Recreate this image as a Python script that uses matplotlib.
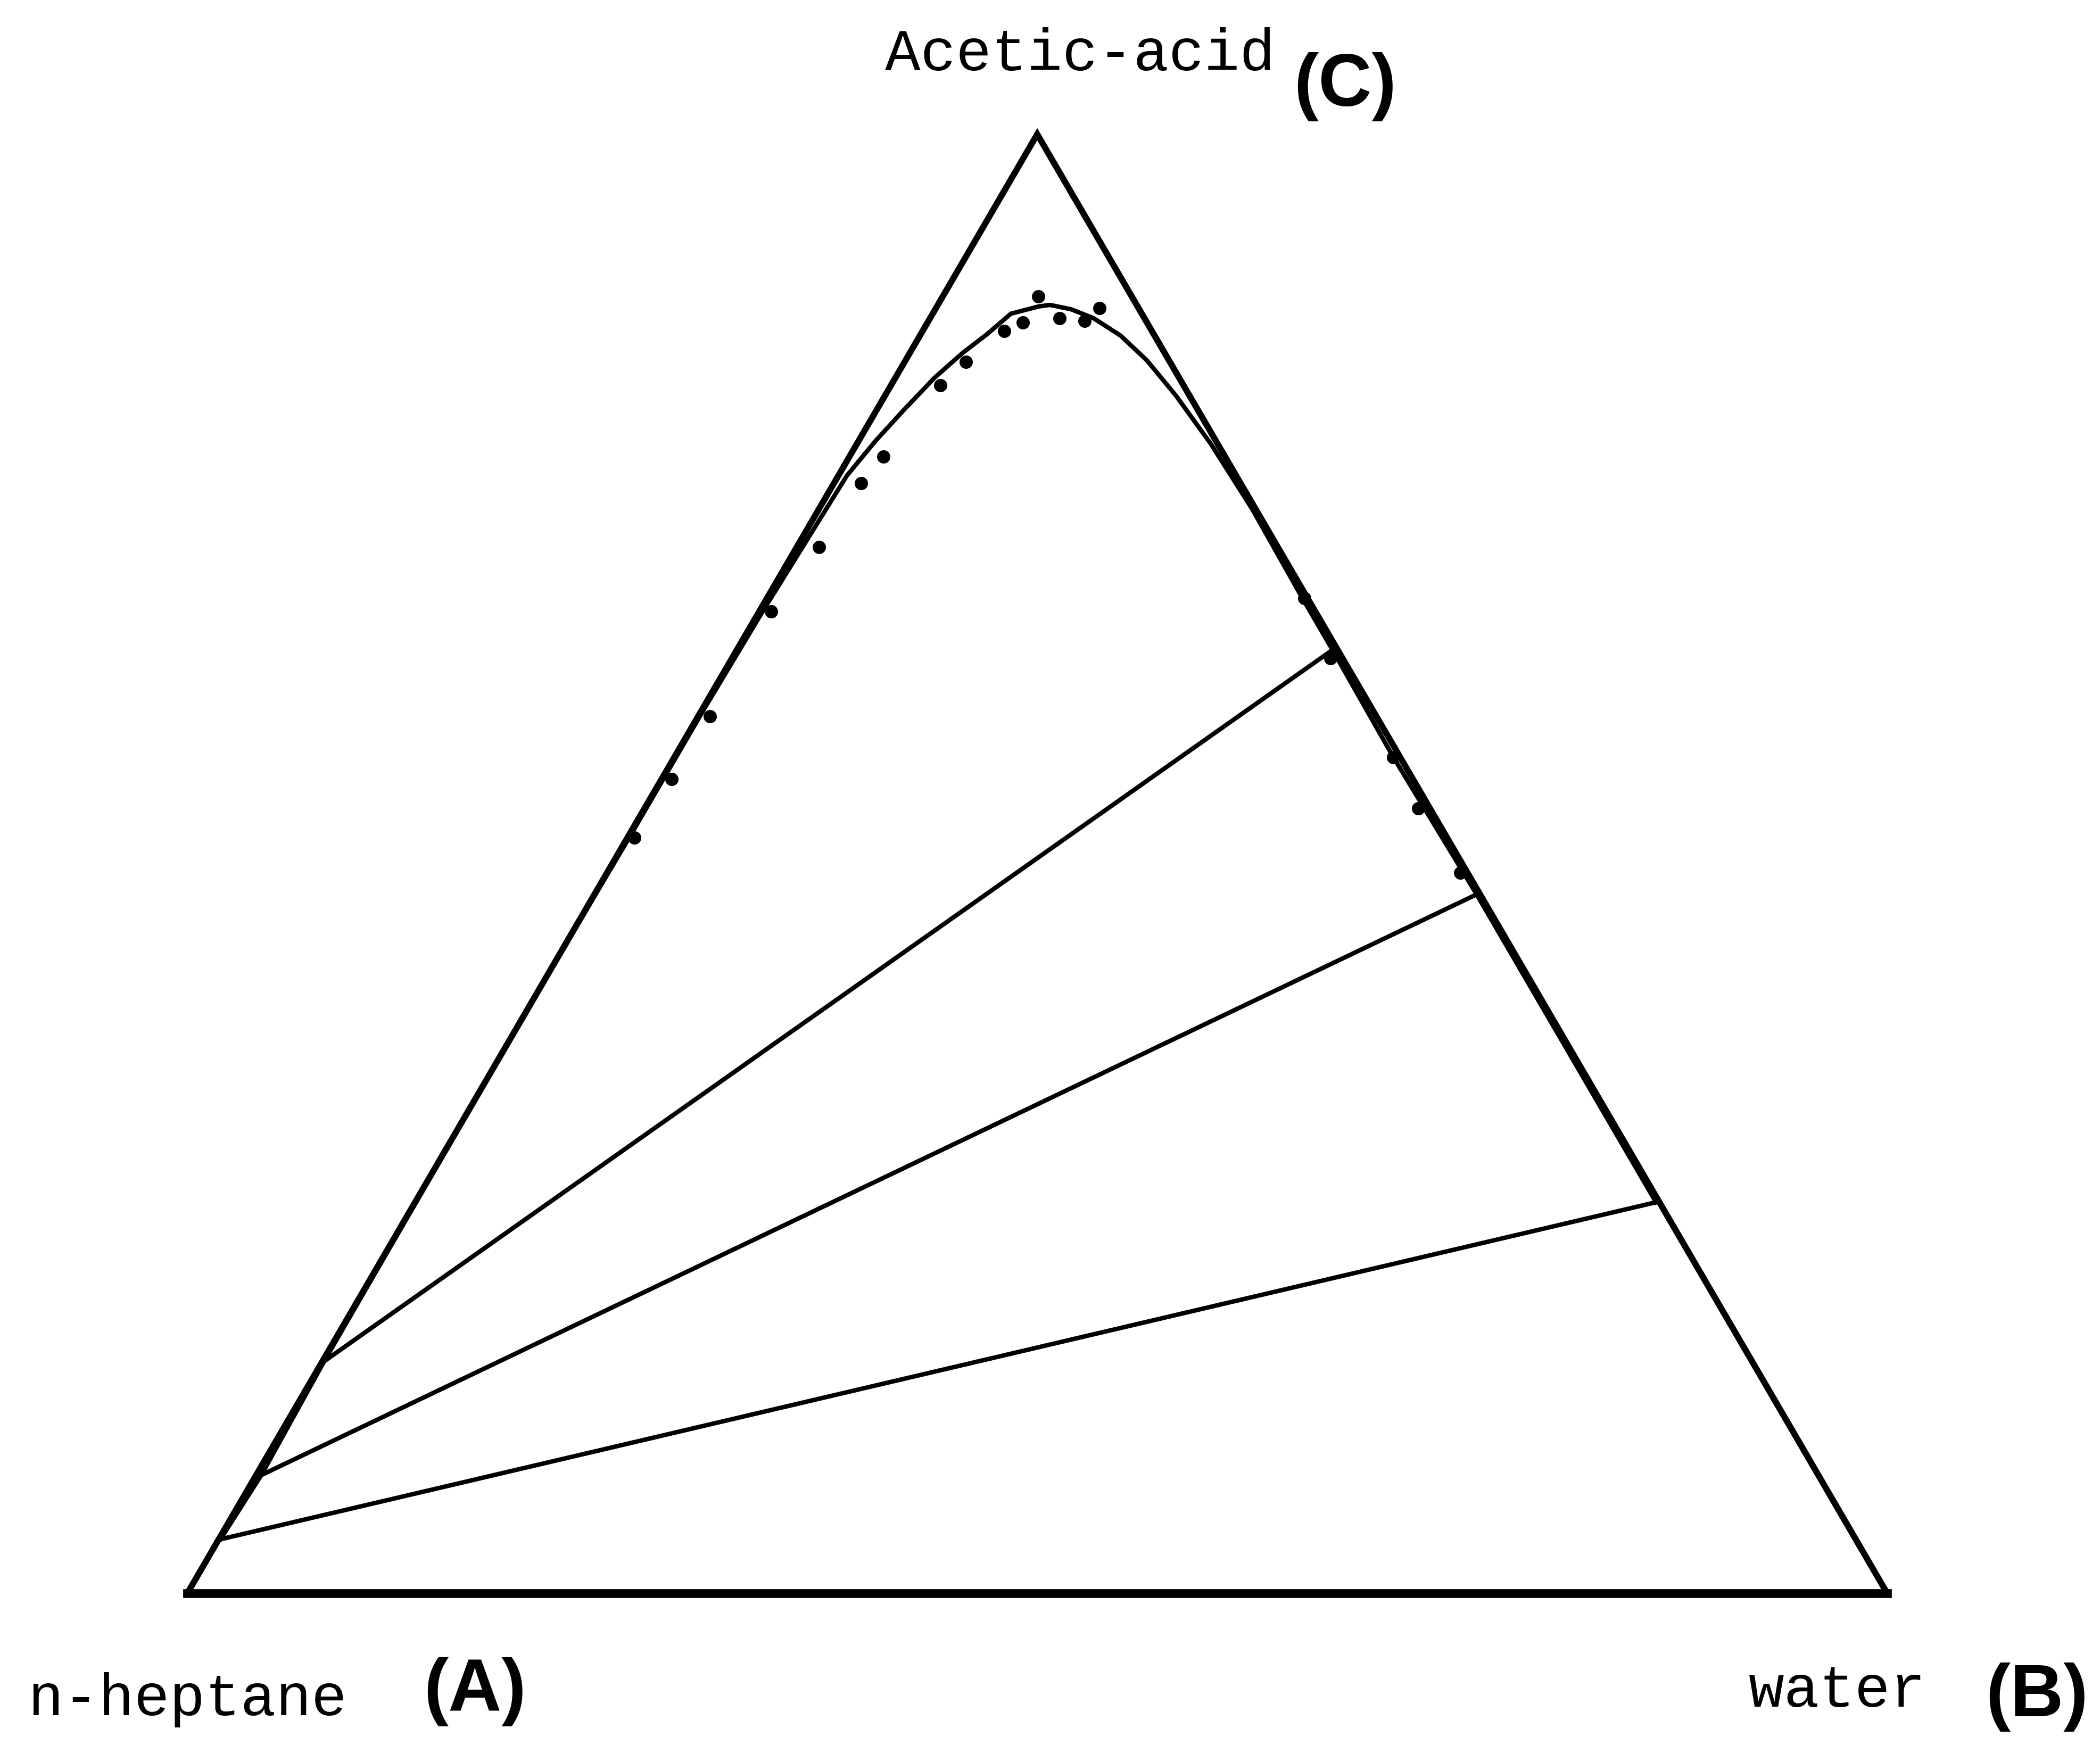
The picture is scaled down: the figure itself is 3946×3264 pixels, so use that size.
# ------------------------------------------------------------------------------------
# DIAGRAMA TRIANGULAR: n-HEPTANO (A) / AGUA (B) / ÁCIDO ACÉTICO (C)
# ------------------------------------------------------------------------------------
# Curva binodal, puntos experimentales y rectas de reparto en un triángulo equilátero.
# Las composiciones se guardan como fracciones másicas (xB, xC); xA = 1 - xB - xC.
import numpy as np
import matplotlib.pyplot as plt

# ------------------------------------------------------------------------------------
# PASO 1: DATOS
# ------------------------------------------------------------------------------------
# Curva binodal, recorrida desde el lado rico en heptano hasta el lado rico en agua
binodal_xb = [0.001, 0.003, 0.001, 0.000, 0.001, 0.001, 0.002, 0.005, 0.010, 0.016,
              0.023, 0.031, 0.039, 0.046, 0.060, 0.066, 0.080, 0.096, 0.118, 0.142,
              0.171, 0.199, 0.208, 0.255, 0.316, 0.351, 0.423, 0.519, 0.730]
binodal_xc = [0.037, 0.081, 0.159, 0.404, 0.518, 0.606, 0.674, 0.766, 0.790, 0.811,
              0.833, 0.850, 0.863, 0.877, 0.882, 0.883, 0.880, 0.874, 0.862, 0.845,
              0.821, 0.796, 0.788, 0.743, 0.681, 0.646, 0.573, 0.479, 0.268]

# Puntos experimentales (turbidez)
exp_xb = [0.004, 0.006, 0.007, 0.007, 0.013, 0.016, 0.020, 0.029, 0.036, 0.048,
          0.056, 0.056, 0.076, 0.092, 0.096, 0.316, 0.352, 0.423, 0.455, 0.502]
exp_xc = [0.518, 0.558, 0.601, 0.673, 0.717, 0.761, 0.779, 0.828, 0.844, 0.865,
          0.871, 0.889, 0.874, 0.872, 0.881, 0.682, 0.641, 0.573, 0.538, 0.494]

# Rectas de reparto: refinado (fase heptano) -> extracto (fase acuosa)
refinado_xb = [0.001, 0.003, 0.001]
refinado_xc = [0.159, 0.081, 0.037]
extracto_xb = [0.350, 0.519, 0.730]
extracto_xc = [0.646, 0.479, 0.268]

# Vértices del triángulo: A, B, C
vertice_xb = [0.0, 1.0, 0.0]
vertice_xc = [0.0, 0.0, 1.0]


# ------------------------------------------------------------------------------------
# PASO 2: CONVERSIÓN A COORDENADAS CARTESIANAS
# ------------------------------------------------------------------------------------
def a_cartesianas(xb, xc):
    xb = np.asarray(xb, dtype=float)
    xc = np.asarray(xc, dtype=float)
    return xb + xc / 2.0, xc * np.sqrt(3) / 2.0


# ------------------------------------------------------------------------------------
# PASO 3: FIGURA
# ------------------------------------------------------------------------------------
fig = plt.figure(figsize=(19.73, 16.32), dpi=200)
ax = fig.add_axes([0, 0, 1, 1])
ax.set_xlim(-0.1102, 1.1252)
ax.set_ylim(-0.0853, 0.9457)
ax.axis("off")

# Triángulo (la base algo más gruesa)
vx, vy = a_cartesianas(vertice_xb, vertice_xc)
ax.plot([vx[0], vx[1]], [vy[0], vy[1]], color="black", lw=6.0, solid_capstyle="projecting")
ax.plot([vx[1], vx[2], vx[0]], [vy[1], vy[2], vy[0]], color="black", lw=4.2,
        solid_joinstyle="miter", solid_capstyle="projecting")

# Curva binodal
bx, by = a_cartesianas(binodal_xb, binodal_xc)
ax.plot(bx, by, color="black", lw=3.0, solid_joinstyle="round")

# Rectas de reparto
rx, ry = a_cartesianas(refinado_xb, refinado_xc)
ex, ey = a_cartesianas(extracto_xb, extracto_xc)
for i in range(len(rx)):
    ax.plot([rx[i], ex[i]], [ry[i], ey[i]], color="black", lw=3.0)

# Puntos experimentales
px, py = a_cartesianas(exp_xb, exp_xc)
ax.plot(px, py, "o", color="black", markersize=9, markeredgewidth=0)

# ------------------------------------------------------------------------------------
# PASO 4: ETIQUETAS
# ------------------------------------------------------------------------------------
mono = dict(family="Liberation Mono", fontsize=40, color="black", va="baseline", ha="left")
negrita = dict(family="Liberation Sans", fontweight="bold", fontsize=50, color="black",
               va="baseline", ha="left")

fig.text(0.4214, 0.9596, "Acetic-acid", **mono)
fig.text(0.6161, 0.9390, "(C)", **negrita)
fig.text(0.0132, 0.0126, "n-heptane", **mono)
fig.text(0.2017, 0.0150, "(A)", **negrita)
fig.text(0.8327, 0.0175, "water", **mono)
fig.text(0.9455, 0.0120, "(B)", **negrita)

fig.savefig("out.png", dpi=200, facecolor="white")
